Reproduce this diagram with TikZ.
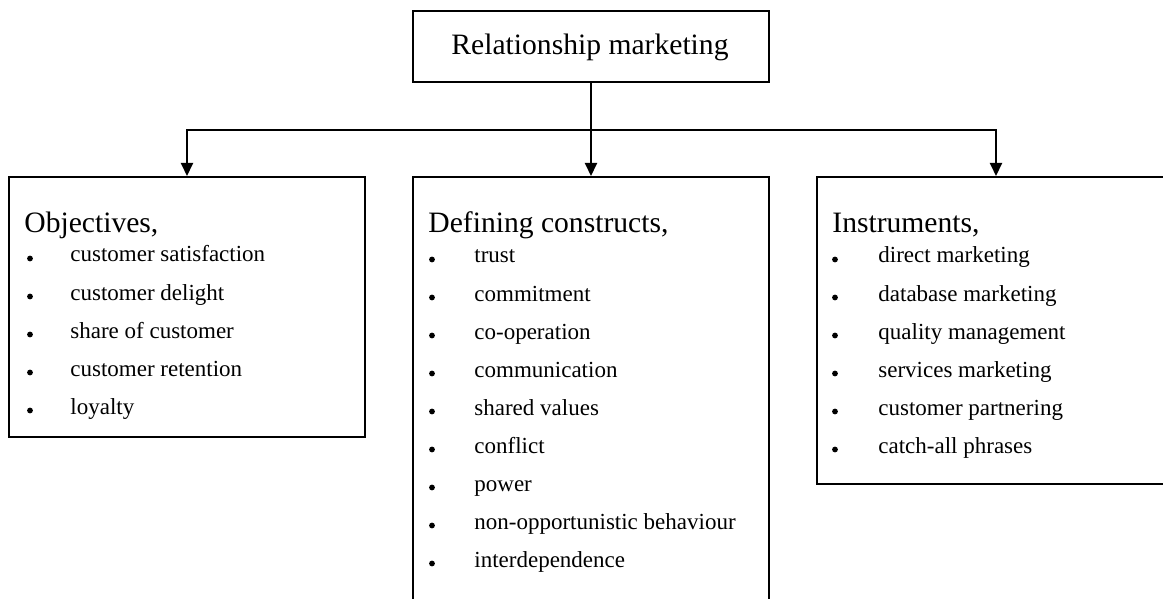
\documentclass[tikz,border=0pt]{standalone}
\usepackage{fontspec}
\setmainfont{Liberation Serif}
\usetikzlibrary{arrows.meta}
\begin{document}
\begin{tikzpicture}[x=0.5pt,y=-0.5pt,
  box/.style={draw, line width=1pt, rectangle, inner sep=0pt},
  link/.style={line width=1pt},
  arr/.style={line width=1pt, -{Triangle[length=6.5pt,width=6pt]}},
  head/.style={anchor=base west, inner sep=0pt, font=\fontsize{14.8}{17}\selectfont},
  item/.style={anchor=base west, inner sep=0pt, font=\fontsize{11.5}{13}\selectfont},
  dot/.style={fill=black}]
\useasboundingbox (0,0) rectangle (1163,599);
\clip (0,0) rectangle (1163,599);
\fill[white] (0,0) rectangle (1163,599);

% boxes
\node[box, minimum width=178pt, minimum height=35.5pt] (top) at (591,46.5) {};
\node[anchor=base, inner sep=0pt, font=\fontsize{14.8}{17}\selectfont] (title) at (590,55) {Relationship marketing};
\node[box, minimum width=178pt, minimum height=130pt] (obj) at (187,307) {};
\node[box, minimum width=178pt, minimum height=221.5pt] (mid) at (591,398.5) {};
\node[box, minimum width=179pt, minimum height=153.5pt] (ins) at (996,330.5) {};

% connectors
\coordinate (j) at (591,130);
\draw[link] (top.south) -- (j);
\draw[arr] (j) -- (mid.north);
\draw[arr] (j) -| (obj.north);
\draw[arr] (j) -| (ins.north);

% headings
\node[head] (hobj) at (24,232.5) {Objectives,};
\node[head] (hmid) at (428,232.5) {Defining constructs,};
\node[head] (hins) at (832,232.5) {Instruments,};

% items
\foreach \t [count=\i] in {customer satisfaction, customer delight, share of customer, customer retention, loyalty}{
  \fill[dot] (30,{262+38*(\i-1)-3.5}) circle[radius=1.45pt];
  \node[item] (o\i) at (70,{262+38*(\i-1)}) {\t};
}
\foreach \t [count=\i] in {trust, commitment, co-operation, communication, shared values, conflict, power, non-opportunistic behaviour, interdependence}{
  \fill[dot] (432,{263+38*(\i-1)-3.5}) circle[radius=1.45pt];
  \node[item] (m\i) at (474,{263+38*(\i-1)}) {\t};
}
\foreach \t [count=\i] in {direct marketing, database marketing, quality management, services marketing, customer partnering, catch-all phrases}{
  \fill[dot] (835,{263+38*(\i-1)-3.5}) circle[radius=1.45pt];
  \node[item] (r\i) at (878,{263+38*(\i-1)}) {\t};
}
\end{tikzpicture}
\end{document}
